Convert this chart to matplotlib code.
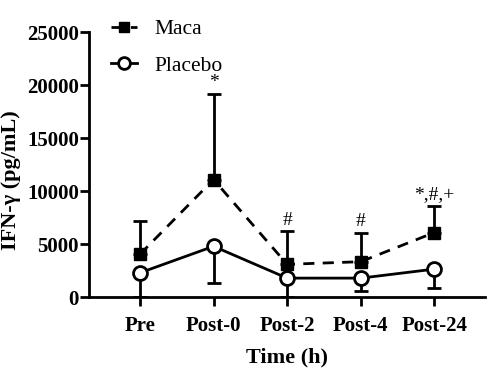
import matplotlib
matplotlib.use("Agg")
import matplotlib.pyplot as plt
import numpy as np

plt.rcParams['font.family'] = ['Liberation Serif', 'DejaVu Serif']

times = ["Pre", "Post-0", "Post-2", "Post-4", "Post-24"]
maca = [4050, 11100, 3100, 3350, 6100]
maca_err = [3150, 8100, 3100, 2750, 2500]
placebo = [2300, 4800, 1800, 1800, 2650]
placebo_err = [2300, 3500, 1800, 1250, 1800]
marks = ["", "*", "#", "#", "*,#,+"]

x = np.arange(len(times))

fig = plt.figure(figsize=(4.9, 3.83), dpi=100)
ax = fig.add_axes([0.182, 0.224, 0.808, 0.692])

ax.errorbar(x, maca, yerr=[np.zeros(len(x)), maca_err], fmt='none',
            ecolor='black', elinewidth=2, capsize=5, capthick=2, zorder=2)
ax.errorbar(x, placebo, yerr=[placebo_err, np.zeros(len(x))], fmt='none',
            ecolor='black', elinewidth=2, capsize=5, capthick=2, zorder=2)
ax.plot(x, maca, color='black', linestyle=(0, (4, 3)), linewidth=2,
        marker='s', markersize=9, label='Maca', zorder=3)
ax.plot(x, placebo, color='black', linestyle='-', linewidth=2,
        marker='o', markersize=10, markerfacecolor='white',
        markeredgewidth=2, label='Placebo', zorder=3)

# significance marks above the Maca error bars
for xi, m, v, e in zip(x, marks, maca, maca_err):
    if m:
        ax.text(xi, v + e + 250, m, ha='center', va='bottom', fontsize=14)

ax.set_xlim(-0.69, 4.69)
ax.set_ylim(0, 25000)
ax.set_yticks([0, 5000, 10000, 15000, 20000, 25000])
ax.set_xticks(x)
ax.set_xticklabels(times)
for s in ['top', 'right']:
    ax.spines[s].set_visible(False)
for s in ['left', 'bottom']:
    ax.spines[s].set_linewidth(2)
ax.tick_params(width=2, length=6.5, labelsize=15, pad=1)
ax.tick_params(axis='x', pad=7)
for lbl in ax.get_xticklabels() + ax.get_yticklabels():
    lbl.set_fontweight('bold')

ax.set_xlabel("Time (h)", fontsize=16, fontweight='bold', labelpad=8)
ax.set_ylabel("IFN-γ (pg/mL)", fontsize=16, fontweight='bold')
ax.yaxis.set_label_coords(-0.172, 0.44)

leg = fig.legend(loc='upper left', bbox_to_anchor=(0.186, 1.0), frameon=False,
                 fontsize=15.5, handlelength=1.25, handletextpad=0.8,
                 labelspacing=0.75, markerscale=0.85)

fig.savefig("out.png", dpi=100)
